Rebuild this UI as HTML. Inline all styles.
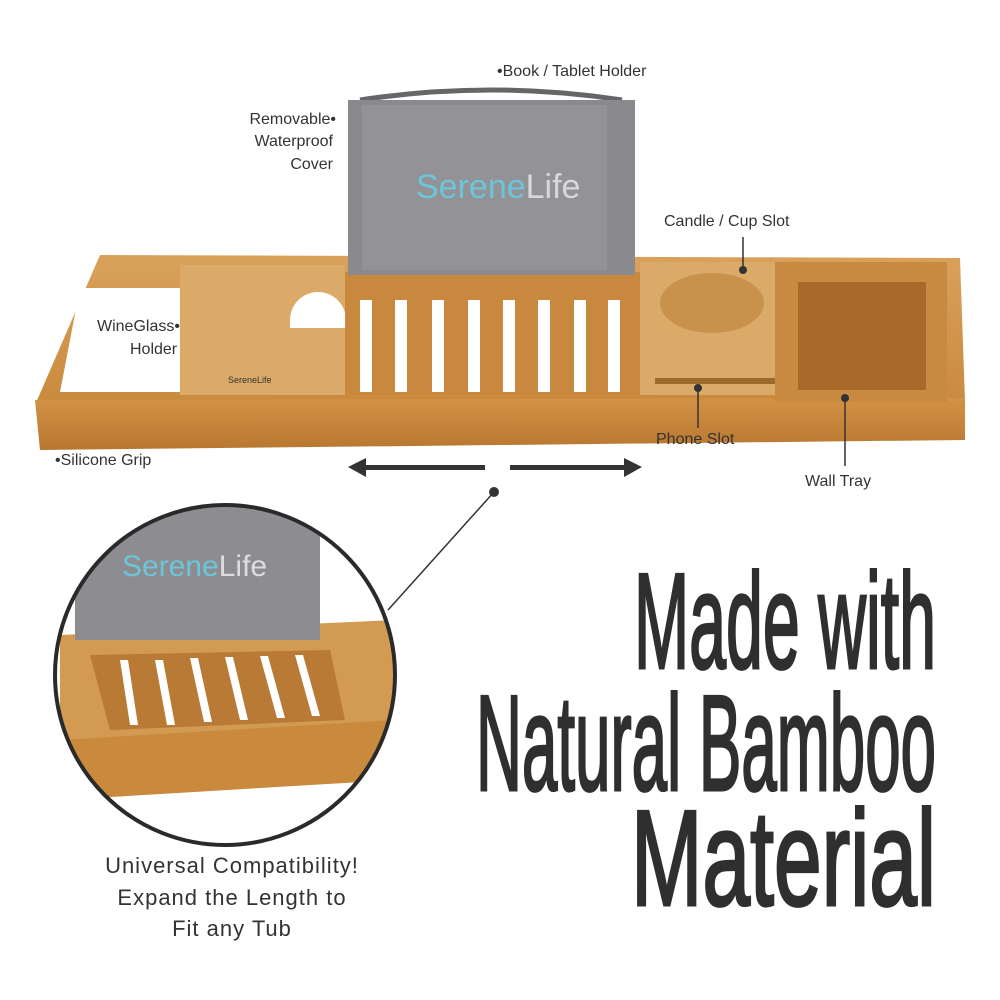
<!DOCTYPE html>
<html><head><meta charset="utf-8"><style>
html,body{margin:0;padding:0;background:#fff;}
svg{display:block;}
text{font-family:"Liberation Sans",sans-serif;fill:#333;}
</style></head><body>
<svg width="1000" height="1000" viewBox="0 0 1000 1000">
<defs>
<linearGradient id="wood" x1="0" y1="0" x2="0" y2="1">
<stop offset="0" stop-color="#d9a15a"/><stop offset="1" stop-color="#c98a3e"/>
</linearGradient>
<linearGradient id="front" x1="0" y1="0" x2="0" y2="1">
<stop offset="0" stop-color="#d39346"/><stop offset="1" stop-color="#b8772f"/>
</linearGradient>
<clipPath id="circ"><circle cx="225" cy="675" r="170"/></clipPath>
</defs>

<polygon points="100,255 960,258 965,402 35,405" fill="url(#wood)"/>
<polygon points="35,400 965,398 965,440 40,450" fill="url(#front)"/>
<polygon points="80,288 180,288 180,392 60,392" fill="#fff"/>
<rect x="180" y="265" width="165" height="130" fill="#dcaa68"/>
<path d="M290,320 a28,28 0 0 1 56,0 v8 h-56z" fill="#fff"/>
<text x="228" y="383" font-size="9" fill="#7a5020">SereneLife</text>
<rect x="345" y="272" width="295" height="123" fill="#c8893f"/>
<g fill="#fff">
<rect x="360" y="300" width="12" height="92"/><rect x="395" y="300" width="12" height="92"/>
<rect x="432" y="300" width="12" height="92"/><rect x="468" y="300" width="12" height="92"/>
<rect x="503" y="300" width="12" height="92"/><rect x="538" y="300" width="12" height="92"/>
<rect x="574" y="300" width="12" height="92"/><rect x="608" y="300" width="12" height="92"/>
</g>
<path d="M360,100 Q492,80 622,100" stroke="#666" stroke-width="5" fill="none"/>
<rect x="348" y="100" width="287" height="175" fill="#8a8a8e"/>
<rect x="362" y="105" width="245" height="165" fill="#939397"/>
<text x="416" y="198" font-size="34" style="fill:#6cc5d8">Serene<tspan style="fill:#d8d8d8">Life</tspan></text>
<rect x="640" y="262" width="165" height="133" fill="#dcaa68"/>
<ellipse cx="712" cy="303" rx="52" ry="30" fill="#c8914c"/>
<rect x="655" y="378" width="140" height="6" fill="#9c6a2c"/>
<rect x="775" y="262" width="172" height="140" fill="#c88a40"/>
<rect x="798" y="282" width="128" height="108" fill="#a8692a"/>

<g font-size="16">
<text x="497" y="76">•Book / Tablet Holder</text>
<text x="336" y="124" text-anchor="end">Removable•</text>
<text x="333" y="146" text-anchor="end">Waterproof</text>
<text x="333" y="169" text-anchor="end">Cover</text>
<text x="664" y="226">Candle / Cup Slot</text>
<text x="97" y="331">WineGlass•</text>
<text x="130" y="354">Holder</text>
<text x="55" y="465">•Silicone Grip</text>
<text x="656" y="444">Phone Slot</text>
<text x="805" y="486">Wall Tray</text>
</g>
<g stroke="#333" stroke-width="1.5">
<line x1="743" y1="237" x2="743" y2="268"/><line x1="698" y1="390" x2="698" y2="428"/>
<line x1="845" y1="400" x2="845" y2="466"/>
</g>
<circle cx="743" cy="270" r="4" fill="#333"/><circle cx="698" cy="388" r="4" fill="#333"/><circle cx="845" cy="398" r="4" fill="#333"/>

<g fill="#333">
<rect x="360" y="465" width="125" height="5"/><polygon points="348,467 366,458 366,477"/>
<rect x="510" y="465" width="120" height="5"/><polygon points="642,467 624,458 624,477"/>
<circle cx="494" cy="492" r="5"/>
</g>
<line x1="494" y1="492" x2="388" y2="610" stroke="#333" stroke-width="1.5"/>

<g clip-path="url(#circ)">
<rect x="55" y="500" width="345" height="350" fill="#fff"/>
<polygon points="60,635 395,620 395,740 60,760" fill="#d39a52"/>
<rect x="75" y="500" width="245" height="140" fill="#8d8d91"/>
<text x="122" y="576" font-size="30" style="fill:#6cc5d8">Serene<tspan style="fill:#ddd">Life</tspan></text>
<polygon points="90,655 330,650 345,720 110,730" fill="#b87a35"/>
<g fill="#fff">
<polygon points="120,660 128,660 138,725 130,725"/><polygon points="155,660 163,660 175,725 167,725"/>
<polygon points="190,658 198,658 212,722 204,722"/><polygon points="225,657 233,657 248,720 240,720"/>
<polygon points="260,656 268,656 285,718 277,718"/><polygon points="295,655 303,655 320,716 312,716"/>
</g>
<polygon points="60,740 395,720 395,780 60,800" fill="#c98a3e"/>
</g>
<circle cx="225" cy="675" r="170" fill="none" stroke="#2a2a2a" stroke-width="4"/>

<g font-size="22" text-anchor="middle" letter-spacing="1">
<text x="232" y="873">Universal Compatibility!</text>
<text x="232" y="905">Expand the Length to</text>
<text x="232" y="936">Fit any Tub</text>
</g>

<g font-size="136" font-family="Liberation Sans Narrow, Liberation Sans, sans-serif" style="fill:#2f2f2f;stroke:#2f2f2f;stroke-width:3">
<text x="634" y="668" textLength="302" lengthAdjust="spacingAndGlyphs" style="fill:#2f2f2f">Made with</text>
<text x="476" y="790" textLength="460" lengthAdjust="spacingAndGlyphs" style="fill:#2f2f2f">Natural Bamboo</text>
<text x="631" y="905" textLength="305" lengthAdjust="spacingAndGlyphs" style="fill:#2f2f2f">Material</text>
</g>
</svg>
</body></html>
